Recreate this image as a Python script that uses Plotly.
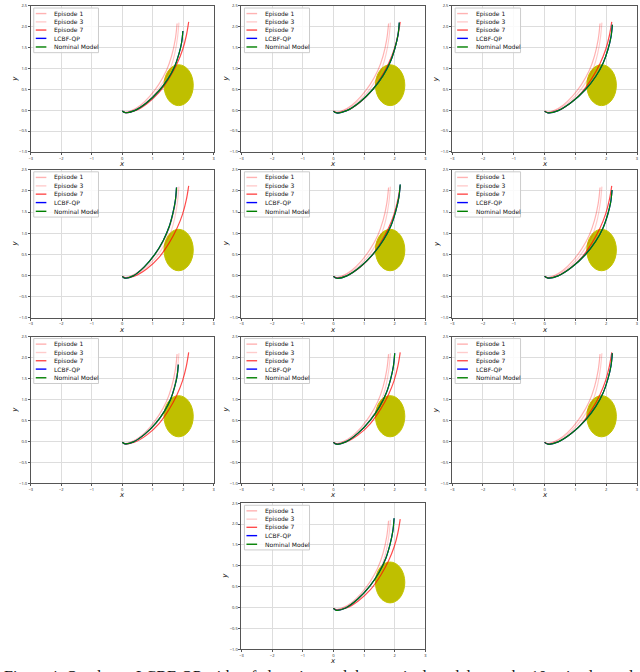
import plotly.graph_objects as go

# ---------------- data ----------------
x_tick_vals = [-3, -2, -1, 0, 1, 2, 3]
x_tick_text = ["−3", "−2", "−1", "0", "1", "2", "3"]
y_tick_vals = [-1.0, -0.5, 0.0, 0.5, 1.0, 1.5, 2.0, 2.5]
y_tick_text = ["−1.0", "−0.5", "0.0", "0.5", "1.0", "1.5", "2.0", "2.5"]

series_names = ["Episode 1", "Episode 3", "Episode 7", "LCBF-QP", "Nominal Model"]

obstacle_center = [1.85, 0.60]
obstacle_radius = [0.48, 0.49]

# learning episodes (shared look across panels)
episode1_x = [0.0, 0.1, 0.3, 0.6, 0.9, 1.2, 1.45, 1.62, 1.74, 1.80]
episode1_y = [-0.02, -0.05, -0.01, 0.12, 0.33, 0.62, 0.95, 1.30, 1.70, 2.08]
episode3_x = [0.0, 0.1, 0.35, 0.7, 1.05, 1.35, 1.58, 1.72, 1.81, 1.86]
episode3_y = [-0.02, -0.05, -0.01, 0.14, 0.38, 0.68, 1.00, 1.35, 1.72, 2.10]
episode7_x = [0.0, 0.1, 0.4, 0.8, 1.2, 1.55, 1.80, 1.98, 2.10, 2.18]
episode7_y = [-0.02, -0.06, -0.02, 0.15, 0.42, 0.78, 1.12, 1.45, 1.78, 2.12]

# LCBF-QP / nominal trajectories per panel (end points differ)
panel_end_x = [1.99, 2.15, 2.20, 1.78, 2.18, 2.19, 1.84, 2.00, 2.20, 1.98]
panel_end_y = [1.90, 2.10, 2.05, 2.08, 2.15, 2.02, 1.83, 2.10, 2.10, 2.14]

ctrl_x = [0.0, 0.1, 0.4, 0.8, 1.2, 1.5, 1.72, 1.86, 1.95, 1.99]
ctrl_y = [-0.02, -0.06, -0.01, 0.18, 0.46, 0.75, 1.05, 1.35, 1.63, 1.90]

# ---------------- layout geometry (pixels) ----------------
W, H = 640, 672
col_px = [(29, 213), (241, 426), (453, 639)]
row_px = [(3, 150), (168, 317), (336, 484), (504, 651)]
xlabel_gap = 12
panel_cells = [(0, 0), (0, 1), (0, 2), (1, 0), (1, 1), (1, 2), (2, 0), (2, 1), (2, 2), (3, 1)]

colors = ["rgba(255,0,0,0.30)", "rgba(255,0,0,0.20)", "rgba(255,0,0,0.70)", "#0000ff", "#008000"]

fig = go.Figure()
shapes = []
annotations = []
layout_axes = {}

for i, (r, c) in enumerate(panel_cells):
    n = i + 1
    xa = "x" if n == 1 else f"x{n}"
    ya = "y" if n == 1 else f"y{n}"
    xkey = "xaxis" if n == 1 else f"xaxis{n}"
    ykey = "yaxis" if n == 1 else f"yaxis{n}"
    x0p, x1p = col_px[c]
    y0p, y1p = row_px[r]
    layout_axes[xkey] = dict(
        domain=[x0p / W, x1p / W], anchor=ya, range=[-3, 3],
        tickvals=x_tick_vals, ticktext=x_tick_text, tickfont=dict(size=4, color="#222"),
        showgrid=True, gridcolor="#dddddd", gridwidth=1, zeroline=False,
        showline=True, linecolor="#555555", linewidth=1, mirror=True,
        ticks="outside", ticklen=2, tickcolor="#555555", fixedrange=True,
    )
    layout_axes[ykey] = dict(
        domain=[1 - y1p / H, 1 - y0p / H], anchor=xa, range=[-1, 2.5],
        tickvals=y_tick_vals, ticktext=y_tick_text, tickfont=dict(size=4, color="#222"),
        showgrid=True, gridcolor="#dddddd", gridwidth=1, zeroline=False,
        showline=True, linecolor="#555555", linewidth=1, mirror=True,
        ticks="outside", ticklen=2, tickcolor="#555555", fixedrange=True,
    )

    # obstacle
    shapes.append(dict(
        type="circle", xref=xa, yref=ya, layer="between",
        x0=obstacle_center[0] - obstacle_radius[0], x1=obstacle_center[0] + obstacle_radius[0],
        y0=obstacle_center[1] - obstacle_radius[1], y1=obstacle_center[1] + obstacle_radius[1],
        fillcolor="#bfbf00", line=dict(color="#c4c400", width=1),
    ))

    sx = (panel_end_x[i]) / ctrl_x[-1]
    sy = (panel_end_y[i]) / ctrl_y[-1]
    lx = [v * sx for v in ctrl_x]
    ly = [v * sy for v in ctrl_y]
    curves = [
        (episode1_x, episode1_y), (episode3_x, episode3_y), (episode7_x, episode7_y),
        (lx, ly), (lx, ly),
    ]
    for k, (cx, cy) in enumerate(curves):
        fig.add_trace(go.Scatter(
            x=cx, y=cy, mode="lines", xaxis=xa, yaxis=ya, name=series_names[k],
            line=dict(color=colors[k], width=1.2, shape="spline"), showlegend=False,
            hoverinfo="skip",
        ))

    # manual legend
    xd = f"{xa} domain"
    yd = f"{ya} domain"
    shapes.append(dict(type="rect", xref=xd, yref=yd, x0=0.016, x1=0.37, y0=0.68, y1=0.986,
                       fillcolor="rgba(255,255,255,0.85)", line=dict(color="#cccccc", width=1), layer="above"))
    ys = [0.948, 0.891, 0.835, 0.778, 0.719]
    for k in range(5):
        shapes.append(dict(type="line", xref=xd, yref=yd, x0=0.027, x1=0.085, y0=ys[k], y1=ys[k],
                           line=dict(color=colors[k], width=1.4), layer="above"))
        annotations.append(dict(xref=xd, yref=yd, x=0.118, y=ys[k], text=series_names[k],
                                showarrow=False, xanchor="left", yanchor="middle",
                                font=dict(family="DejaVu Sans", size=6, color="#111")))
    # axis labels
    annotations.append(dict(xref=xd, yref="paper", x=0.5, y=1 - (y1p + xlabel_gap) / H, text="<i>x</i>",
                            showarrow=False, xanchor="center", yanchor="middle",
                            font=dict(family="DejaVu Sans", size=7, color="#111")))
    annotations.append(dict(xref="paper", yref=yd, x=(x0p - 16) / W, y=0.5, text="<i>y</i>",
                            showarrow=False, xanchor="center", yanchor="middle", textangle=-90,
                            font=dict(family="DejaVu Sans", size=7, color="#111")))

annotations.append(dict(xref="paper", yref="paper", x=0.0, y=1 - 668 / H, xanchor="left", yanchor="top",
                        text="Figure 4: Quadrotor LCBF-QP with safe learning and the nominal model over the 10 episodes and",
                        showarrow=False, font=dict(family="Liberation Serif", size=16, color="#111")))

fig.update_layout(
    width=W, height=H, margin=dict(l=0, r=0, t=0, b=0),
    paper_bgcolor="white", plot_bgcolor="white", showlegend=False,
    shapes=shapes, annotations=annotations, **layout_axes,
)
fig.write_html("out.html", config={"displayModeBar": False},
               post_script="document.body.style.margin='0px';document.body.style.overflow='hidden';")
